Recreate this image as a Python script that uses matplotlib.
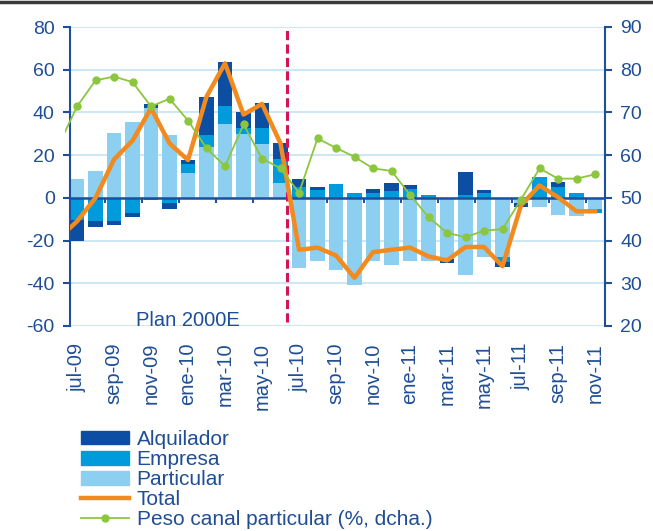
import numpy as np
import matplotlib
matplotlib.use('Agg')
import matplotlib.pyplot as plt
from matplotlib.lines import Line2D
from matplotlib.patches import Patch
from matplotlib.transforms import Bbox, TransformedBbox

plt.rcParams['font.family'] = ['Liberation Sans', 'DejaVu Sans']
plt.rcParams['axes.unicode_minus'] = False

months = ['jul-09', 'ago-09', 'sep-09', 'oct-09', 'nov-09', 'dic-09',
          'ene-10', 'feb-10', 'mar-10', 'abr-10', 'may-10', 'jun-10',
          'jul-10', 'ago-10', 'sep-10', 'oct-10', 'nov-10', 'dic-10',
          'ene-11', 'feb-11', 'mar-11', 'abr-11', 'may-11', 'jun-11',
          'jul-11', 'ago-11', 'sep-11', 'oct-11', 'nov-11']

# contributions by channel (pp), left axis
particular = [9, 12.5, 30.5, 35.5, 42, 29.5, 11.7, 24, 34.5, 30, 25, 7,
              -33, -29.6, -34, -40.7, -29.6, -31.3, -29.6, -29.6, -28.5, -36,
              -27.7, -27.7, -2.5, -4.5, -7.8, -8.7, -5.4]
empresa = [-10.5, -11, -11, -7, -1, -2.3, 4, 5.5, 8.3, 2.8, 7.5, 11,
           5, 3.6, 6.3, 2.3, 2.3, 3.3, 4.2, 1.3, 0, 1.2,
           2.2, -2.3, 0, 9.9, 5.2, 2.3, -1.6]
alquilador = [-9.5, -2.5, -1.5, -2, 2, -2.7, 2.2, 17.7, 20.6, 7.4, 12, 7.8,
              4, 1.5, 0, 0, 1.7, 3.8, 1.7, 0, -1.9, 11,
              1.6, -2.3, -1.8, 0, 2, 0, 0]

# the two lines start one month earlier (jun-09), cut by the left edge
total = [-19, -11, 0, 18, 26.8, 42, 25.5, 17.7, 47.4, 63, 39, 44, 25.5,
         -24.3, -23.3, -27, -37.4, -25.4, -24.3, -23.3, -27.4, -29.3, -23,
         -23, -32, -3.5, 5.8, 0.3, -6.3, -6.3]
peso_particular = [62.3, 71.4, 77.5, 78.4, 77.1, 71.4, 73.2, 68.1, 61.6, 57.4,
                   67.2, 59.2, 56.9, 51.2, 63.9, 61.7, 59.6, 56.9, 56.3, 50.7,
                   45.5, 41.8, 40.8, 42.3, 42.7, 49.6, 56.9, 54.5, 54.5, 55.5]

plan_end = 11.35

txt_blue = '#1f4e96'
axis_blue = '#1c4f9c'
c_alq = '#0b4ea2'
c_emp = '#009bdc'
c_part = '#8dcff0'
c_total = '#f28a1e'
c_peso = '#8cc63f'
c_grid = '#c8e5f3'

fig = plt.figure(figsize=(6.53, 5.31), dpi=100)
ax = fig.add_axes([70 / 653, 1 - 326 / 531, 535 / 653, 299 / 531])

x = np.arange(len(months))
x_lines = np.arange(-1, len(months))

# stacked bars, positive and negative parts stacked separately
pos_bottom = np.zeros(len(months))
neg_bottom = np.zeros(len(months))
for vals, col in [(particular, c_part), (empresa, c_emp), (alquilador, c_alq)]:
    v = np.array(vals, dtype=float)
    bottom = np.where(v >= 0, pos_bottom, neg_bottom)
    ax.bar(x, v, 0.76, bottom=bottom, color=col, zorder=2)
    pos_bottom += np.clip(v, 0, None)
    neg_bottom += np.clip(v, None, 0)

ax.axhline(0, color=axis_blue, lw=1.8, zorder=3)
ax.vlines(np.arange(1.5, len(months) - 1, 2), -2.6, 0, color=axis_blue, lw=1.4, zorder=3)
ax.axvline(plan_end, ymin=0.015, ymax=0.99, color='#d4145a', lw=2.2,
           dashes=(3, 1.4), zorder=4)
ax.plot(x_lines, total, color=c_total, lw=3.2, zorder=5)

ax.text(6.0, -60, 'Plan 2000E', ha='center', va='baseline', fontsize=14.5, color=txt_blue)

ax.set_xlim(-0.38, 28.54)
ax.set_ylim(-60, 80)
ax.set_yticks(range(-60, 81, 20))
ax.set_xticks(x[::2])
ax.set_xticklabels(months[::2], rotation=90)
ax.grid(axis='y', color=c_grid, lw=1.3)
ax.set_axisbelow(True)
ax.tick_params(axis='x', length=0, pad=12, labelsize=14.5, labelcolor=txt_blue)
ax.tick_params(axis='y', direction='out', length=5, width=1.5, color=axis_blue,
               pad=6, labelsize=14, labelcolor=txt_blue)
for s in ['top', 'bottom', 'right']:
    ax.spines[s].set_visible(False)
ax.spines['left'].set_color(axis_blue)
ax.spines['left'].set_linewidth(1.5)

ax2 = ax.twinx()
ln, = ax2.plot(x_lines, peso_particular, color=c_peso, lw=1.3, marker='o', ms=5, zorder=5)
ln.set_clip_box(TransformedBbox(Bbox([[-0.65, 0], [28.6, 100]]), ax2.transData))
ax2.set_ylim(20, 90)
ax2.set_yticks(range(20, 91, 10))
ax2.tick_params(axis='y', direction='out', length=5, width=1.5, color=axis_blue,
                pad=6, labelsize=14, labelcolor=txt_blue)
for s in ['top', 'bottom', 'left']:
    ax2.spines[s].set_visible(False)
ax2.spines['right'].set_color(axis_blue)
ax2.spines['right'].set_linewidth(1.5)

handles = [Patch(color=c_alq), Patch(color=c_emp), Patch(color=c_part),
           Line2D([], [], color=c_total, lw=3.2),
           Line2D([], [], color=c_peso, lw=1.3, marker='o', ms=5)]
labels = ['Alquilador', 'Empresa', 'Particular', 'Total', 'Peso canal particular (%, dcha.)']
fig.legend(handles, labels, loc='upper left', bbox_to_anchor=(80.7 / 653, 1 - 430 / 531),
           frameon=False, fontsize=15, labelspacing=0.05, handlelength=2.3,
           handleheight=0.63, handletextpad=0.38, borderpad=0, borderaxespad=0,
           labelcolor=txt_blue)

fig.add_artist(Line2D([0, 1], [1 - 2 / 531] * 2, transform=fig.transFigure,
                      color='#3a3a3a', lw=2.5))

fig.savefig('out.png', dpi=100)
